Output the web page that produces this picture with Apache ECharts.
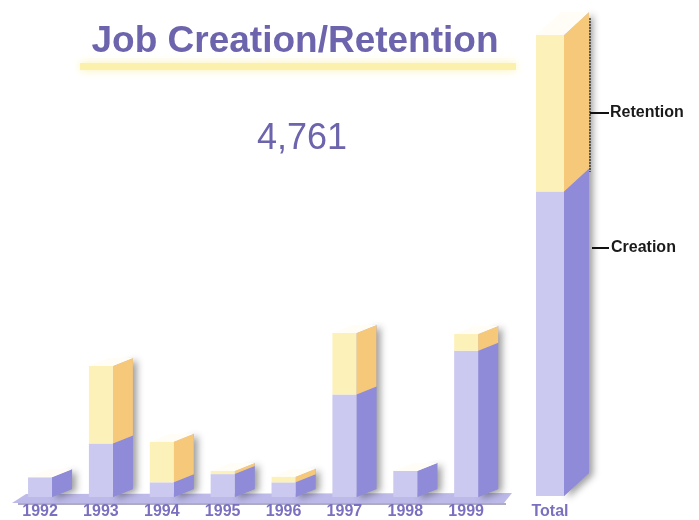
<!DOCTYPE html>
<html>
<head>
<meta charset="utf-8">
<script src="https://cdn.jsdelivr.net/npm/echarts@6/dist/echarts.min.js"></script>
<style>
  html, body { margin: 0; padding: 0; background: #fff; }
  #chart-container { width: 699px; height: 520px; }
</style>
</head>
<body>
<div id="chart-container"></div>
<script>
// data (jobs per year)
const years = ['1992', '1993', '1994', '1995', '1996', '1997', '1998', '1999'];
const creation = [155, 420, 115, 180, 115, 805, 205, 1150];
const retention = [0, 610, 320, 25, 45, 485, 0, 131];
const totalLabel = ['Total'];
const totalCreation = [creation.reduce((a, b) => a + b, 0)];
const totalRetention = [retention.reduce((a, b) => a + b, 0)];
const grandTotal = totalCreation[0] + totalRetention[0];

const purple = '#6c64ac';
const labelPurple = '#7a70c0';
const font = '"Liberation Sans", Arial, sans-serif';

let dom = document.getElementById('chart-container');
let myChart = echarts.init(dom, null, { renderer: 'canvas' });

// 3d-looking stacked column: front face and slanted side face
function bar3d(w, dx, dy) {
  return function (params, api) {
    const i = api.value(0);
    const c = api.value(1);
    const r = api.value(2);
    const b = api.coord([i, 0]);
    const m = api.coord([i, c]);
    const t = api.coord([i, c + r]);
    const x0 = b[0] - w / 2;
    const x1 = b[0] + w / 2;
    const kids = [];
    // shadow behind the whole side
    kids.push({
      type: 'polygon',
      shape: { points: [[x1, b[1]], [x1 + dx, b[1] + dy], [x1 + dx, t[1] + dy], [x1, t[1]]] },
      style: { fill: '#9a98c8', shadowBlur: 7, shadowOffsetX: 4, shadowOffsetY: 2, shadowColor: 'rgba(40,40,40,0.45)' }
    });
    function seg(yb, yt, front, side) {
      if (yb - yt < 0.5) return;
      kids.push({
        type: 'polygon',
        shape: { points: [[x1, yb], [x1 + dx, yb + dy], [x1 + dx, yt + dy], [x1, yt]] },
        style: { fill: side }
      });
      kids.push({
        type: 'rect',
        shape: { x: x0, y: yt, width: w, height: yb - yt },
        style: { fill: front }
      });
    }
    seg(b[1], m[1], '#cbc9f0', '#8f8bd8');
    seg(m[1], t[1], '#fdf1ba', '#f6c97a');
    kids.push({
      type: 'polygon',
      shape: { points: [[x0, t[1]], [x1, t[1]], [x1 + dx, t[1] + dy], [x0 + dx, t[1] + dy]] },
      style: { fill: '#fffdf6' }
    });
    return { type: 'group', children: kids };
  };
}

let option = {
  animation: false,
  grid: [
    { left: 9.6, width: 487, top: 20, bottom: 20 },
    { left: 520, width: 60, top: 35, bottom: 20 }
  ],
  xAxis: [
    {
      type: 'category', gridIndex: 0, data: years,
      axisLine: { show: false }, axisTick: { show: false },
      axisLabel: { color: labelPurple, fontWeight: 'bold', fontSize: 16, fontFamily: font, margin: 7 }
    },
    {
      type: 'category', gridIndex: 1, data: totalLabel,
      axisLine: { show: false }, axisTick: { show: false },
      axisLabel: { color: labelPurple, fontWeight: 'bold', fontSize: 16, fontFamily: font, margin: 8 }
    }
  ],
  yAxis: [
    { type: 'value', gridIndex: 0, min: 0, max: 3750, show: false, splitLine: { show: false } },
    { type: 'value', gridIndex: 1, min: 0, max: grandTotal, show: false, splitLine: { show: false } }
  ],
  graphic: [
    {
      type: 'rect', z: 0,
      shape: { x: 80, y: 63, width: 436, height: 7 },
      style: { fill: '#fbf1ac', shadowBlur: 8, shadowColor: '#fbf1ac' }
    },
    {
      type: 'text', x: 295, y: 42, z: 1,
      style: {
        text: 'Job Creation/Retention', font: 'bold 37px ' + font, fill: purple,
        textAlign: 'center', textVerticalAlign: 'middle', align: 'center', verticalAlign: 'middle'
      }
    },
    {
      type: 'text', x: 302, y: 139, z: 1,
      style: {
        text: grandTotal.toLocaleString('en-US'), font: '36px ' + font, fill: purple,
        textAlign: 'center', textVerticalAlign: 'middle', align: 'center', verticalAlign: 'middle'
      }
    },
    // floor strip under the yearly columns
    {
      type: 'polygon', z: 0,
      shape: { points: [[12, 503], [26, 494], [512, 493], [504, 503]] },
      style: { fill: '#bdbaea' }
    },
    {
      type: 'line', z: 0,
      shape: { x1: 18, y1: 504, x2: 506, y2: 504 },
      style: { stroke: '#aeacc2', lineWidth: 2 }
    },
    {
      type: 'line', z: 20,
      shape: { x1: 590, y1: 18, x2: 590, y2: 172 },
      style: { stroke: '#3a3a3a', lineWidth: 1.5, lineDash: [2, 1] }
    },
    {
      type: 'line', z: 20,
      shape: { x1: 590, y1: 113, x2: 609, y2: 113 },
      style: { stroke: '#111', lineWidth: 2 }
    },
    {
      type: 'text', x: 610, y: 113, z: 20,
      style: { text: 'Retention', font: 'bold 16px ' + font, fill: '#1a1a1a', textVerticalAlign: 'middle', verticalAlign: 'middle' }
    },
    {
      type: 'line', z: 20,
      shape: { x1: 592, y1: 248, x2: 609, y2: 248 },
      style: { stroke: '#111', lineWidth: 2 }
    },
    {
      type: 'text', x: 611, y: 248, z: 20,
      style: { text: 'Creation', font: 'bold 16px ' + font, fill: '#1a1a1a', textVerticalAlign: 'middle', verticalAlign: 'middle' }
    }
  ],
  series: [
    {
      type: 'custom', name: 'Years', xAxisIndex: 0, yAxisIndex: 0, z: 10,
      renderItem: bar3d(24, 20, -8),
      encode: { x: 0, y: [1, 2] },
      data: years.map((y, i) => [i, creation[i], retention[i]])
    },
    {
      type: 'custom', name: 'Total', xAxisIndex: 1, yAxisIndex: 1, z: 10,
      renderItem: bar3d(28, 25, -23),
      encode: { x: 0, y: [1, 2] },
      data: totalLabel.map((y, i) => [i, totalCreation[i], totalRetention[i]])
    }
  ]
};

if (option && typeof option === 'object') {
  myChart.setOption(option);
}

window.addEventListener('resize', myChart.resize);
</script>
</body>
</html>
